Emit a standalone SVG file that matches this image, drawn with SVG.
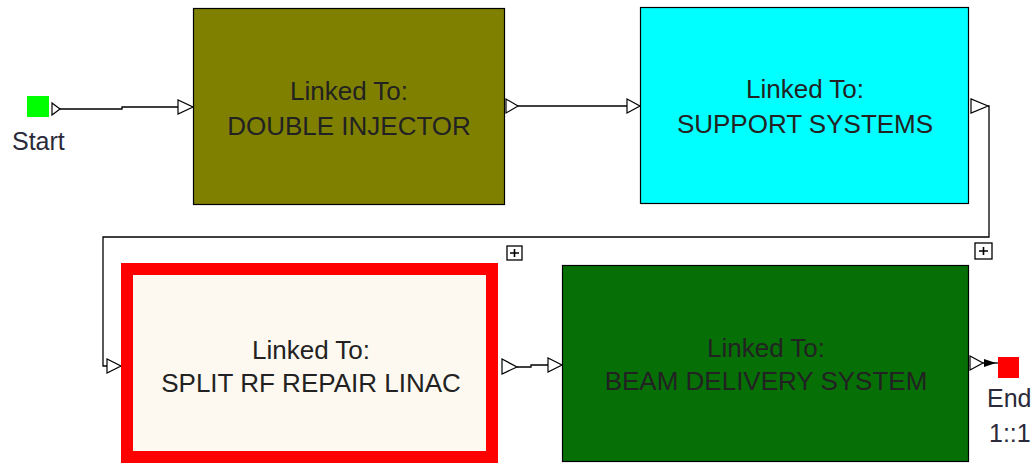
<svg xmlns="http://www.w3.org/2000/svg" width="1031" height="464" viewBox="0 0 1031 464">
  <style>
    .lbl { font-family: "Liberation Sans", Arial, sans-serif; font-size: 26px; fill: #222; text-anchor: middle; }
    .side { font-family: "Liberation Sans", Arial, sans-serif; font-size: 25px; fill: #2a2a3a; }
    .box { stroke: #000; stroke-width: 1.2; }
    .wire { fill: none; stroke: #000; stroke-width: 1.3; }
    .port { fill: #fff; stroke: #000; stroke-width: 1.2; }
    .plus { fill: #fff; stroke: #000; stroke-width: 1.3; }
  </style>
  <rect width="1031" height="464" fill="#fff"/>

  <!-- connectors -->
  <g id="connectors">
    <path class="wire" d="M58,109 H122 V107 H179"/>
    <path class="wire" d="M518,106 H628"/>
    <path class="wire" d="M988,106 H989 V237 H103 V366 H107"/>
    <path class="wire" d="M517,367 H531 V365 H549"/>
    <path class="wire" d="M983,363 H998"/>
    <!-- port triangles -->
    <polygon class="port" points="52,103 52,115 60,109"/>
    <polygon class="port" points="178,100 178,114 193,107"/>
    <polygon class="port" points="506,99 506,113 518,106"/>
    <polygon class="port" points="627,99 627,113 640,106"/>
    <polygon class="port" points="971,99 971,113 988,106"/>
    <polygon class="port" points="107,359 107,373 121,366"/>
    <polygon class="port" points="502,359 502,374 517,367"/>
    <polygon class="port" points="548,358 548,372 562,365"/>
    <polygon class="port" points="970,356 970,370 983,363"/>
    <polygon points="984,359 984,367 996,363" fill="#000"/>
    <!-- expand markers -->
    <g>
      <rect class="plus" x="507" y="246" width="15" height="14"/>
      <path d="M510,253 H519 M514.5,249 V257" stroke="#000" stroke-width="1.6"/>
    </g>
    <g>
      <rect class="plus" x="975" y="243" width="17" height="16"/>
      <path d="M979,251 H988 M983.5,247 V255" stroke="#000" stroke-width="1.6"/>
    </g>
  </g>

  <!-- start / end terminals -->
  <g id="start">
    <rect x="27" y="96" width="22" height="21" fill="#00ff00"/>
    <text class="side" x="12" y="150">Start</text>
  </g>
  <g id="end">
    <rect x="998" y="357" width="21" height="21" fill="#ff0000"/>
    <text class="side" x="987" y="407">End</text>
    <text class="side" x="989" y="442">1::1</text>
  </g>

  <!-- process blocks -->
  <g id="double-injector">
    <rect class="box" x="193.5" y="8.5" width="311" height="196" fill="#808000"/>
    <text class="lbl" x="349" y="100">Linked To:</text>
    <text class="lbl" x="349" y="135">DOUBLE INJECTOR</text>
  </g>
  <g id="support-systems">
    <rect class="box" x="640.5" y="7.5" width="328" height="196" fill="#00ffff"/>
    <text class="lbl" x="805" y="98">Linked To:</text>
    <text class="lbl" x="805" y="133">SUPPORT SYSTEMS</text>
  </g>
  <g id="split-rf-repair-linac">
    <rect x="127" y="269" width="365" height="188" fill="#fdf9f0" stroke="#ff0000" stroke-width="12"/>
    <text class="lbl" x="311" y="359">Linked To:</text>
    <text class="lbl" x="311" y="392">SPLIT RF REPAIR LINAC</text>
  </g>
  <g id="beam-delivery-system">
    <rect class="box" x="562.5" y="265.5" width="406" height="196" fill="#067006"/>
    <text class="lbl" x="766" y="357">Linked To:</text>
    <text class="lbl" x="766" y="390">BEAM DELIVERY SYSTEM</text>
  </g>
</svg>
